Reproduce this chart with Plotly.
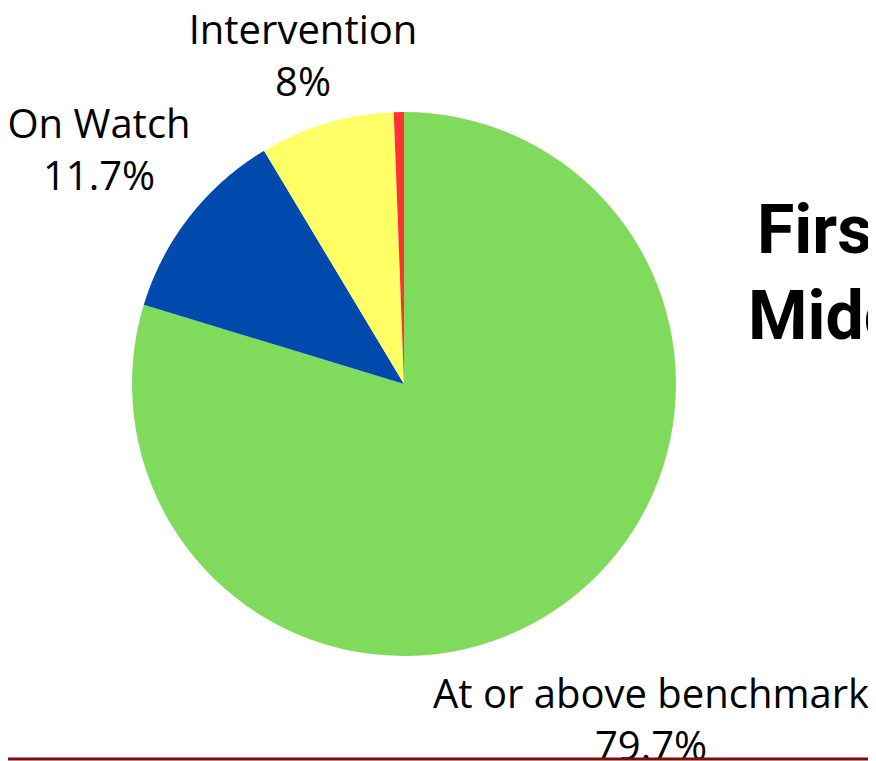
import plotly.graph_objects as go

categories = ["At or above benchmark", "On Watch", "Intervention", "Urgent Intervention"]
values = [79.7, 11.7, 8.0, 0.6]
colors = ["#80DA5B", "#004AAD", "#FFFF66", "#FF3131"]
show_label = [True, True, True, False]
title_lines = ["First Grade", "Middle of Year"]

# The page body has an 8px default margin; figure frame = screen - 8
W, H = 868, 753
cx, cy, r = 396, 376, 272

def pct(v):
    s = f"{v:.1f}"
    return (s[:-2] if s.endswith(".0") else s) + "%"

fig = go.Figure()
fig.add_trace(go.Pie(
    labels=categories,
    values=values,
    marker=dict(colors=colors, line=dict(width=0)),
    sort=False,
    direction="clockwise",
    rotation=0,
    textinfo="none",
    showlegend=False,
    hoverinfo="label+percent",
    domain=dict(x=[(cx - r) / W, (cx + r) / W], y=[(H - cy - r) / H, (H - cy + r) / H]),
))

# slice labels
label_pos = {"At or above benchmark": (643, 716), "On Watch": (91, 146), "Intervention": (295, 52)}
lx, ly, lt = [], [], []
for c, v, s in zip(categories, values, show_label):
    if s:
        x, y = label_pos[c]
        lx.append(x); ly.append(y); lt.append(f"{c}<br>{pct(v)}")
fig.add_trace(go.Scatter(
    x=lx, y=ly, text=lt, mode="text", textposition="middle center",
    textfont=dict(family="Open Sans", size=40, color="#000000"),
    showlegend=False, hoverinfo="skip", cliponaxis=True,
))

# title (cut off at the right edge as in the reference)
fig.add_trace(go.Scatter(
    x=[749, 740], y=[228, 314], text=["<b>" + t + "</b>" for t in title_lines],
    mode="text", textposition="middle right",
    textfont=dict(family="Roboto", size=68, color="#000000"),
    showlegend=False, hoverinfo="skip", cliponaxis=True,
))

fig.add_shape(type="line", xref="paper", yref="y", x0=0, x1=1, y0=751, y1=751,
              line=dict(color="#7F0A0A", width=3))

fig.update_layout(
    width=W, height=H, margin=dict(l=0, r=0, t=0, b=0),
    paper_bgcolor="white", plot_bgcolor="rgba(0,0,0,0)",
    xaxis=dict(range=[0, W], visible=False, fixedrange=True),
    yaxis=dict(range=[H, 0], visible=False, fixedrange=True),
)
fig.write_html("out.html")
